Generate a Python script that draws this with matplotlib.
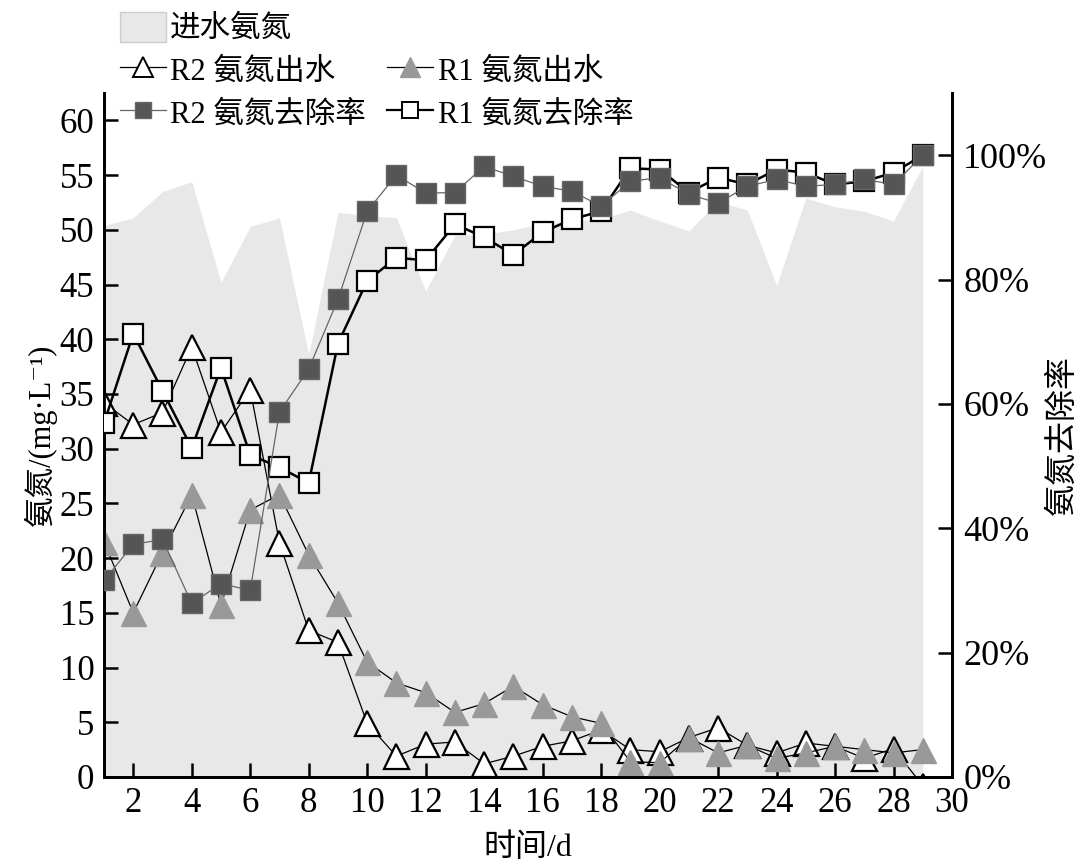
import numpy as np
import matplotlib
matplotlib.use("Agg")
import matplotlib.pyplot as plt
from matplotlib.patches import Patch
from matplotlib.lines import Line2D

plt.rcParams['font.family'] = ['Liberation Serif', 'Noto Sans CJK SC', 'DejaVu Serif']

days = np.arange(1, 30)

# influent ammonia (mg/L)
influent = [50.4, 51.1, 53.5, 54.4, 45.2, 50.3, 51.1, 38.6, 51.6, 51.3,
            51.1, 44.4, 49.5, 49.6, 50.0, 50.6, 50.8, 51.0, 51.8, 50.8,
            49.9, 52.6, 51.8, 44.9, 52.9, 52.1, 51.7, 50.8, 55.8]

# effluent ammonia (mg/L)
r2_out = [34.2, 32.2, 33.3, 39.3, 31.5, 35.4, 21.4, 13.4, 12.3, 4.9,
          1.9, 3.0, 3.2, 1.2, 1.9, 2.8, 3.3, 4.3, 2.5, 2.3,
          3.6, 4.5, 2.9, 2.2, 3.1, 2.8, 1.7, 2.6, -0.8]
r1_out = [21.5, 15.0, 20.5, 25.8, 15.7, 24.4, 25.8, 20.3, 15.9, 10.5,
          8.6, 7.7, 5.9, 6.7, 8.3, 6.6, 5.5, 4.9, 1.4, 1.3,
          3.6, 2.2, 2.9, 1.7, 2.2, 2.8, 2.5, 2.2, 2.5]

# removal rate (%)
r2_rem = [31.6, 37.4, 38.2, 27.9, 31.1, 30.0, 58.7, 65.6, 76.8, 91.0,
          96.8, 93.9, 94.0, 98.2, 96.6, 95.0, 94.2, 91.8, 95.8, 96.4,
          93.7, 92.3, 95.0, 96.1, 95.0, 95.3, 96.1, 95.3, 100.0]
r1_rem = [56.9, 71.3, 62.1, 52.9, 65.8, 51.8, 49.8, 47.3, 69.7, 79.8,
          83.5, 83.1, 88.9, 86.8, 84.0, 87.6, 89.7, 91.0, 97.9, 97.7,
          94.0, 96.4, 95.3, 97.7, 97.2, 95.3, 95.8, 97.2, 100.0]

left_ticks = np.arange(0, 61, 5)
right_ticks = np.arange(0, 101, 20)
x_ticks = np.arange(2, 31, 2)

fig = plt.figure(figsize=(10.8, 8.63), dpi=100)
ax = fig.add_axes([0.0963, 0.0997, 0.7852, 0.7925])
ax2 = ax.twinx()

ax.fill_between(days, influent, color='#e8e8e8', linewidth=0, zorder=1)

ax.plot(days, r2_out, color='k', lw=0.9, marker='^', ms=18,
        mfc='white', mec='k', mew=1.6, zorder=3)
ax.plot(days, r1_out, color='k', lw=0.9, marker='^', ms=18,
        mfc='#999999', mec='#999999', mew=1.0, zorder=4)

ax2.plot(days, r1_rem, color='k', lw=1.8, marker='s', ms=14,
         mfc='white', mec='k', mew=1.6, zorder=3)
ax2.plot(days, r2_rem, color='#666666', lw=0.9, marker='s', ms=14,
         mfc='#555555', mec='#666666', mew=1.0, zorder=4)

ax.set_xlim(1, 30)
ax.set_ylim(0, 62.5)
ax2.set_ylim(0, 110)
ax.set_xticks(x_ticks)
ax.set_yticks(left_ticks)
ax2.set_yticks(right_ticks)
ax2.set_yticklabels([f'{t}%' for t in right_ticks])

for a in (ax, ax2):
    a.spines['top'].set_visible(False)
    for s in a.spines.values():
        s.set_linewidth(2.0)
ax.tick_params(axis='both', direction='in', length=10, width=1.8,
               labelsize=25, pad=7)
ax2.tick_params(axis='y', direction='in', length=10, width=1.8,
                labelsize=26, pad=8)

ax.set_xlabel('时间/d', fontsize=23, labelpad=10)
ax.set_ylabel('氨氮/(mg·L⁻¹)', fontsize=22, labelpad=2)
ax2.set_ylabel('氨氮去除率', fontsize=23, labelpad=0)

handles = [
    Patch(facecolor='#e8e8e8', edgecolor='#cccccc', label='进水氨氮'),
    Line2D([], [], color='k', lw=0.9, marker='^', ms=15, mfc='white',
           mec='k', mew=1.4, label='R2 氨氮出水'),
    Line2D([], [], color='#666666', lw=0.9, marker='s', ms=12,
           mfc='#555555', mec='#666666', label='R2 氨氮去除率'),
    Patch(alpha=0, label=' '),
    Line2D([], [], color='k', lw=0.9, marker='^', ms=15, mfc='#999999',
           mec='#999999', label='R1 氨氮出水'),
    Line2D([], [], color='k', lw=1.6, marker='s', ms=12, mfc='white',
           mec='k', mew=1.4, label='R1 氨氮去除率'),
]
fig.legend(handles=handles, loc='upper left', bbox_to_anchor=(0.108, 0.99),
           ncol=2, frameon=False, fontsize=22, handlelength=1.5,
           handleheight=1.15, handletextpad=0.15, labelspacing=0.33,
           columnspacing=0.7, borderpad=0.1, borderaxespad=0)

fig.savefig('out.png', dpi=100)
